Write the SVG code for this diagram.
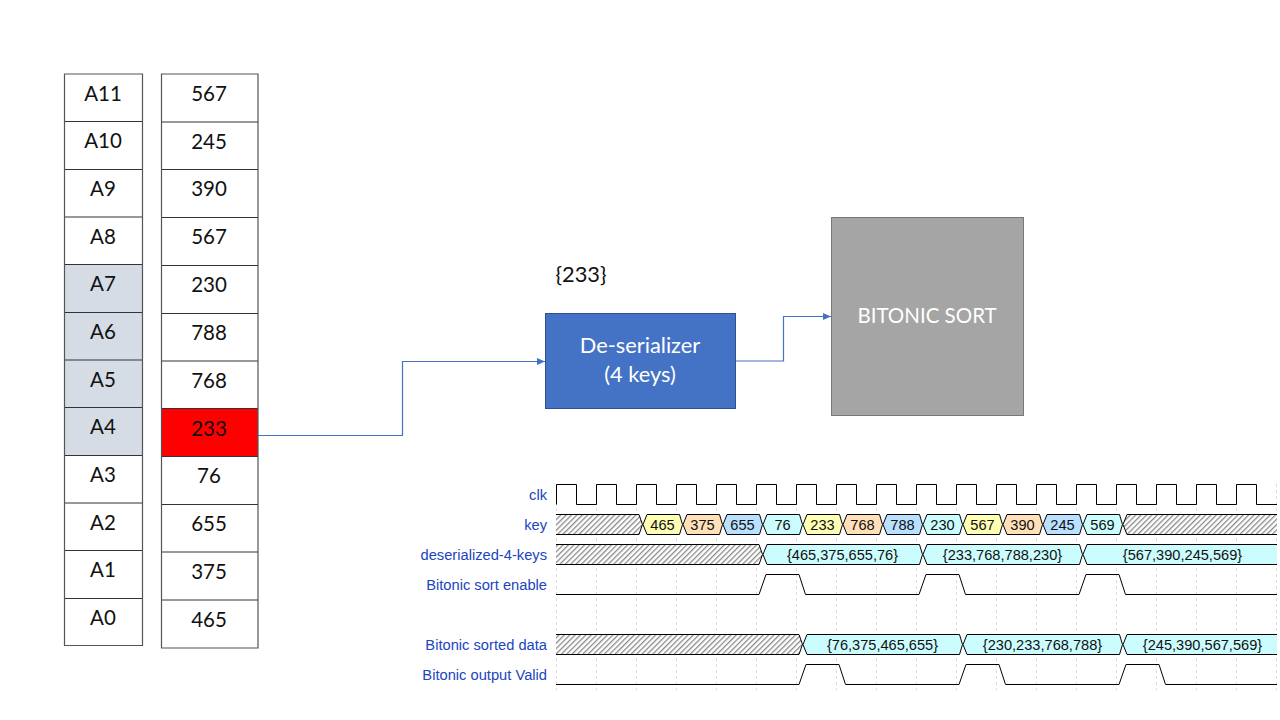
<svg xmlns="http://www.w3.org/2000/svg" width="1280" height="720" viewBox="0 0 1280 720">
<style>
text{font-family:"Lato","Liberation Sans",sans-serif;text-anchor:middle}
.cell{font-size:20.5px;fill:#111}
.big{font-size:21.8px}
.tbl{fill:none;stroke:#555;stroke-width:1.2}
.rowline{stroke:#333;stroke-width:1}
.wl{font-family:"Liberation Sans",Arial,sans-serif;font-size:14.7px;fill:#2045c0;text-anchor:end}
.wv{font-family:"Liberation Sans",Arial,sans-serif;font-size:14.6px;fill:#111}
.sig{fill:none;stroke:#000;stroke-width:1}
.grid{stroke:#ddd;stroke-width:1;stroke-dasharray:3 3}
.bus{stroke:#000;stroke-width:1}
.hx{fill:url(#hatch)}
.y{fill:#ffffb4}.o{fill:#ffe0b9}.b{fill:#b9e0ff}.c{fill:#ccfdfe}
.conn{fill:none;stroke:#4472c4;stroke-width:1.2;marker-end:url(#arr)}
</style>
<defs>
<pattern id="hatch" width="3.8" height="3.8" patternUnits="userSpaceOnUse" patternTransform="rotate(45)">
<rect width="3.8" height="3.8" fill="#fff"/><rect width="1.3" height="3.8" fill="#8a8a8a"/>
</pattern>
<marker id="arr" markerWidth="9" markerHeight="8" refX="8" refY="3.5" orient="auto" markerUnits="userSpaceOnUse"><path d="M0 0L8 3.5L0 7z" fill="#4472c4"/></marker>
</defs>
<rect width="1280" height="720" fill="#fff"/>

<g id="address-table">
<rect x="64.5" y="264" width="78" height="191.500" fill="#d6dce5"/>
<path class="rowline" d="M64 121.500H143M64 169.500H143M64 217H143M64 264.500H143M64 312.500H143M64 360H143M64 407.500H143M64 455.500H143M64 503H143M64 550.500H143M64 598.500H143"/>
<path class="tbl" d="M64.500 74H142.500M64.500 645.500H142.500M64.500 73.500V646M142.500 73.500V646"/>
<text class="cell" x="103" y="101">A11</text>
<text class="cell" x="103" y="148">A10</text>
<text class="cell" x="103" y="196">A9</text>
<text class="cell" x="103" y="244">A8</text>
<text class="cell" x="103" y="291">A7</text>
<text class="cell" x="103" y="339">A6</text>
<text class="cell" x="103" y="387">A5</text>
<text class="cell" x="103" y="434">A4</text>
<text class="cell" x="103" y="482">A3</text>
<text class="cell" x="103" y="530">A2</text>
<text class="cell" x="103" y="577">A1</text>
<text class="cell" x="103" y="625">A0</text>
</g>

<g id="value-table">
<rect x="161.500" y="408.500" width="96.500" height="48" fill="#f00"/>
<path class="rowline" d="M161 122H258M161 169.500H258M161 217.500H258M161 265.500H258M161 313.500H258M161 361H258M161 408.500H258M161 456.500H258M161 504.500H258M161 552H258M161 600H258"/>
<path class="tbl" d="M161 74H258M161 648H258M161.500 73.500V648.500M258 73.500V648.500"/>
<text class="cell" x="209" y="101">567</text>
<text class="cell" x="209" y="149">245</text>
<text class="cell" x="209" y="196">390</text>
<text class="cell" x="209" y="244">567</text>
<text class="cell" x="209" y="292">230</text>
<text class="cell" x="209" y="340">788</text>
<text class="cell" x="209" y="388">768</text>
<text class="cell" x="209" y="436">233</text>
<text class="cell" x="209" y="483">76</text>
<text class="cell" x="209" y="531">655</text>
<text class="cell" x="209" y="579">375</text>
<text class="cell" x="209" y="627">465</text>
</g>

<g id="connectors">
<path class="conn" d="M258 435.500H402.500V361.500H545"/>
<path class="conn" d="M736 361H783.500V316.500H831"/>
</g>

<g id="current-key"><text class="big" x="581" y="282" style="fill:#111">{233}</text></g>

<g id="deserializer">
<rect x="545.500" y="313.500" width="190" height="95" fill="#4472c4" stroke="#2f528f"/>
<text class="big" x="640" y="353" style="fill:#fff">De-serializer</text>
<text class="big" x="640" y="382" style="fill:#fff">(4 keys)</text>
</g>

<g id="bitonic-sort">
<rect x="831.500" y="217.500" width="192" height="198" fill="#a5a5a5" stroke="#787878"/>
<text x="927" y="323" style="font-size:20.5px;fill:#fff">BITONIC SORT</text>
</g>

<g id="waveform-grid">
<path class="grid" d="M556.500 484V690M596.500 484V690M636.500 484V690M676.500 484V690M716.500 484V690M756.500 484V690M796.500 484V690M836.500 484V690M876.500 484V690M916.500 484V690M956.500 484V690M996.500 484V690M1036.500 484V690M1076.500 484V690M1116.500 484V690M1156.500 484V690M1196.500 484V690M1236.500 484V690M1276.500 484V690"/>
</g>

<g id="wave-clk">
<text class="wl" x="547" y="500">clk</text>
<path class="sig" d="M556.500 504.500V484.500H576.500V504.500H596.500V484.500H616.500V504.500H636.500V484.500H656.500V504.500H676.500V484.500H696.500V504.500H716.500V484.500H736.500V504.500H756.500V484.500H776.500V504.500H796.500V484.500H816.500V504.500H836.500V484.500H856.500V504.500H876.500V484.500H896.500V504.500H916.500V484.500H936.500V504.500H956.500V484.500H976.500V504.500H996.500V484.500H1016.500V504.500H1036.500V484.500H1056.500V504.500H1076.500V484.500H1096.500V504.500H1116.500V484.500H1136.500V504.500H1156.500V484.500H1176.500V504.500H1196.500V484.500H1216.500V504.500H1236.500V484.500H1256.500V504.500H1277"/>
</g>

<g id="wave-key">
<text class="wl" x="547" y="530">key</text>
<path class="hx" d="M556 514.500H639L642.500 524.500L639 534.500H556z"/>
<path class="bus" fill="none" d="M556 514.500H639L642.500 524.500L639 534.500H556"/>
<path class="y bus" d="M643 524.500L647 514.500H679.500L682.500 524.500L679.500 534.500H647z"/>
<path class="o bus" d="M683 524.500L687 514.500H719.500L722.500 524.500L719.500 534.500H687z"/>
<path class="b bus" d="M723 524.500L727 514.500H759.500L762.500 524.500L759.500 534.500H727z"/>
<path class="c bus" d="M763 524.500L767 514.500H799.500L802.500 524.500L799.500 534.500H767z"/>
<path class="y bus" d="M803 524.500L807 514.500H839.500L842.500 524.500L839.500 534.500H807z"/>
<path class="o bus" d="M843 524.500L847 514.500H879.500L882.500 524.500L879.500 534.500H847z"/>
<path class="b bus" d="M883 524.500L887 514.500H919.500L922.500 524.500L919.500 534.500H887z"/>
<path class="c bus" d="M923 524.500L927 514.500H959.500L962.500 524.500L959.500 534.500H927z"/>
<path class="y bus" d="M963 524.500L967 514.500H999.500L1002.500 524.500L999.500 534.500H967z"/>
<path class="o bus" d="M1003 524.500L1007 514.500H1039.500L1042.500 524.500L1039.500 534.500H1007z"/>
<path class="b bus" d="M1043 524.500L1047 514.500H1079.500L1082.500 524.500L1079.500 534.500H1047z"/>
<path class="c bus" d="M1083 524.500L1087 514.500H1119.500L1122.500 524.500L1119.500 534.500H1087z"/>
<path class="hx" d="M1123 524.500L1127 514.500H1277V534.500H1127z"/>
<path class="bus" fill="none" d="M1277 514.500H1127L1123 524.500L1127 534.500H1277"/>
<text class="wv" x="662.500" y="530">465</text>
<text class="wv" x="702.500" y="530">375</text>
<text class="wv" x="742.500" y="530">655</text>
<text class="wv" x="782.500" y="530">76</text>
<text class="wv" x="822.500" y="530">233</text>
<text class="wv" x="862.500" y="530">768</text>
<text class="wv" x="902.500" y="530">788</text>
<text class="wv" x="942.500" y="530">230</text>
<text class="wv" x="982.500" y="530">567</text>
<text class="wv" x="1022.500" y="530">390</text>
<text class="wv" x="1062.500" y="530">245</text>
<text class="wv" x="1102.500" y="530">569</text>
</g>

<g id="wave-deserialized">
<text class="wl" x="547" y="560">deserialized-4-keys</text>
<path class="hx" d="M556 544.500H759L762.500 554.500L759 564.500H556z"/>
<path class="bus" fill="none" d="M556 544.500H759L762.500 554.500L759 564.500H556"/>
<path class="c bus" d="M763 554.500L767 544.500H919.500L922.500 554.500L919.500 564.500H767z"/>
<path class="c bus" d="M923 554.500L927 544.500H1079.500L1082.500 554.500L1079.500 564.500H927z"/>
<path class="c" d="M1083 554.500L1087 544.500H1277V564.500H1087z"/>
<path class="bus" fill="none" d="M1277 544.500H1087L1083 554.500L1087 564.500H1277"/>
<text class="wv" x="842.500" y="560">{465,375,655,76}</text>
<text class="wv" x="1002.500" y="560">{233,768,788,230}</text>
<text class="wv" x="1182.500" y="560">{567,390,245,569}</text>
</g>

<g id="wave-enable">
<text class="wl" x="547" y="590">Bitonic sort enable</text>
<path class="sig" d="M556 594.500H759L766 574.500H799L805.500 594.500H919L926 574.500H959L965.500 594.500H1079L1086 574.500H1119L1125.500 594.500H1277"/>
</g>

<g id="wave-sorted">
<text class="wl" x="547" y="650">Bitonic sorted data</text>
<path class="hx" d="M556 634.500H799L802.500 644.500L799 654.500H556z"/>
<path class="bus" fill="none" d="M556 634.500H799L802.500 644.500L799 654.500H556"/>
<path class="c bus" d="M803 644.500L807 634.500H959.500L962.500 644.500L959.500 654.500H807z"/>
<path class="c bus" d="M963 644.500L967 634.500H1119.500L1122.500 644.500L1119.500 654.500H967z"/>
<path class="c" d="M1123 644.500L1127 634.500H1277V654.500H1127z"/>
<path class="bus" fill="none" d="M1277 634.500H1127L1123 644.500L1127 654.500H1277"/>
<text class="wv" x="882.500" y="650">{76,375,465,655}</text>
<text class="wv" x="1042.500" y="650">{230,233,768,788}</text>
<text class="wv" x="1202.500" y="650">{245,390,567,569}</text>
</g>

<g id="wave-valid">
<text class="wl" x="547" y="680">Bitonic output Valid</text>
<path class="sig" d="M556 684.500H799L806 664.500H839L845.500 684.500H959L966 664.500H999L1005.500 684.500H1119L1126 664.500H1159L1165.500 684.500H1277"/>
</g>
</svg>
